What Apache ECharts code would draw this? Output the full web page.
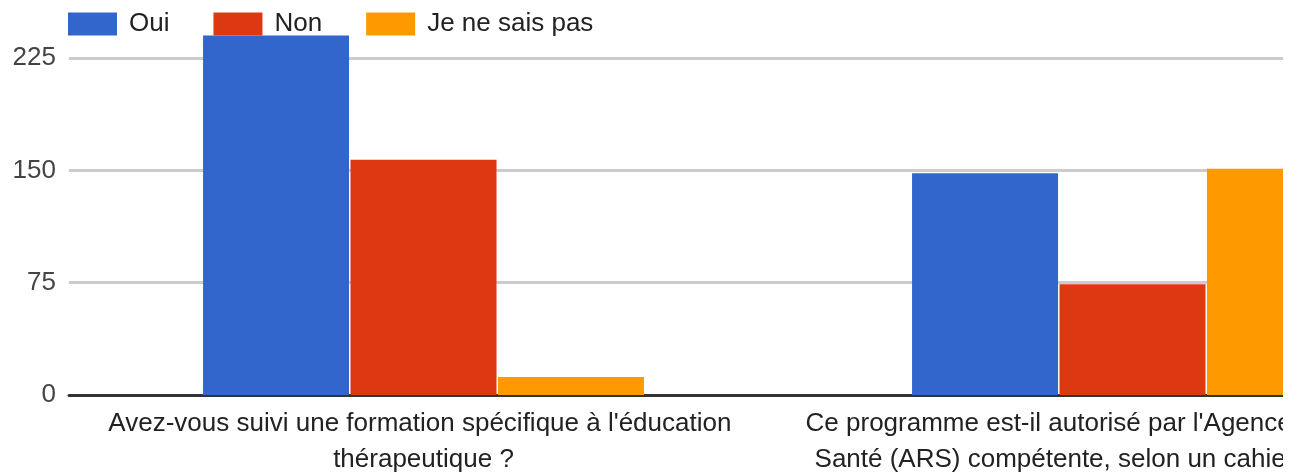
<!DOCTYPE html>
<html>
<head>
<meta charset="utf-8">
<script src="https://cdn.jsdelivr.net/npm/echarts@6/dist/echarts.min.js"></script>
<style>
html, body { margin: 0; padding: 0; background: #fff; }
#wrap { width: 1283px; height: 472px; overflow: hidden; }
#chart { width: 1500px; height: 472px; }
</style>
</head>
<body>
<div id="wrap"><div id="chart"></div></div>
<script>
// questions (x categories)
var questions = [
	"Avez-vous suivi une formation spécifique à l'éducation thérapeutique ?",
	"Ce programme est-il autorisé par l'Agence Régionale de Santé (ARS) compétente, selon un cahier des charges national ?"
];
var answers = ['Oui', 'Non', 'Je ne sais pas'];
var oui = [240, 148];
var non = [157, 74];
var nsp = [12, 151];
var yTicks = [0, 75, 150, 225];

var colors = ['#3366cc', '#dc3912', '#ff9900'];
var font = 'Arial, "Liberation Sans", sans-serif';

var chart = echarts.init(document.getElementById('chart'));

function bar(name, data) {
	return {
		name : name,
		type : 'bar',
		data : data,
		barWidth : 146,
		barGap : '1%',
		clip : false
	};
}

var option = {
	animation : false,
	color : colors,
	textStyle : { fontFamily : font },
	legend : {
		left : 68,
		top : 11,
		padding : 0,
		icon : 'rect',
		itemWidth : 49,
		itemHeight : 23,
		itemGap : 44,
		data : answers,
		textStyle : {
			fontSize : 26,
			color : '#222',
			padding : [0, 0, 0, 7],
			fontFamily : font
		}
	},
	grid : {
		left : 69,
		top : 58,
		width : 1418,
		height : 337,
		containLabel : false,
		outerBoundsMode : 'none'
	},
	xAxis : {
		type : 'category',
		data : questions,
		axisTick : { show : false },
		axisLine : { lineStyle : { color : '#333', width : 3 } },
		axisLabel : {
			interval : 0,
			margin : 11,
			fontSize : 26,
			lineHeight : 36,
			color : '#222',
			width : 690,
			overflow : 'break',
			fontFamily : font
		}
	},
	yAxis : {
		type : 'value',
		min : yTicks[0],
		max : yTicks[yTicks.length - 1],
		interval : 75,
		axisLine : { show : false },
		axisTick : { show : false },
		splitLine : { lineStyle : { color : '#cccccc', width : 3 } },
		axisLabel : {
			margin : 13,
			fontSize : 26,
			color : '#444',
			fontFamily : font
		}
	},
	series : [ bar(answers[0], oui), bar(answers[1], non), bar(answers[2], nsp) ]
};
chart.setOption(option);
</script>
</body>
</html>
